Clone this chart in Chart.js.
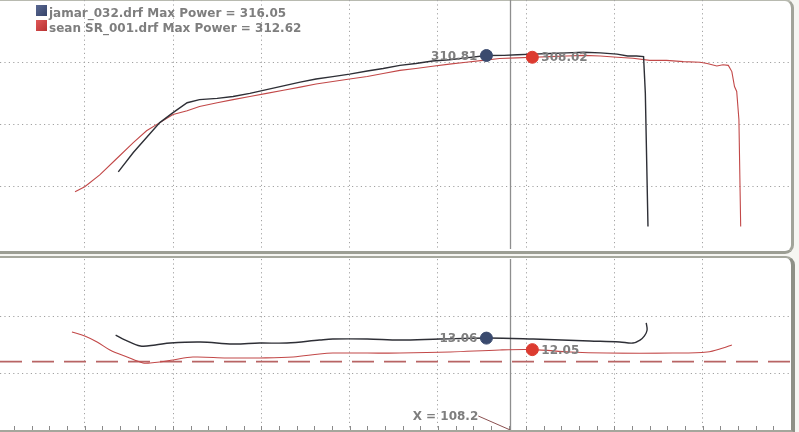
<!DOCTYPE html>
<html>
<head>
<meta charset="utf-8">
<script src="https://cdn.jsdelivr.net/npm/chart.js@4/dist/chart.umd.min.js"></script>
<style>
  html, body { margin:0; padding:0; }
  body { width:799px; height:432px; background:#f6f6f2; position:relative; overflow:hidden; font-family:"DejaVu Sans", Verdana, sans-serif; }
  .panel { position:absolute; background:#ffffff; box-sizing:content-box; }
  #p1 { left:-10px; top:-1px; width:801px; height:250px; border-top:2px solid #b8bab0; border-right:3px solid #a2a49a; border-bottom:3px solid #9c9e94; border-radius:0 9px 9px 0; }
  #p2 { left:-10px; top:256px; width:801px; height:172px; border-top:2px solid #a6a89e; border-right:4px solid #8e9086; border-bottom:3px solid #a4a69c; border-radius:0 9px 0 0; }
  canvas { position:absolute; left:0; }
  #c1 { top:0; }
  #c2 { top:259px; }
</style>
</head>
<body>
<div class="panel" id="p1"></div>
<div class="panel" id="p2"></div>
<canvas id="c1" width="791" height="249"></canvas>
<canvas id="c2" width="791" height="171"></canvas>
<script>
// ---------- DATA ----------
const seriesNames = ["jamar_032.drf", "sean SR_001.drf"];
const maxPower = [316.05, 312.62];
const xMin = 50.4, xMax = 140;
const xGridTicks = [60, 70, 80, 90, 100, 110, 120, 130];
const powerGridTicks = [100, 200, 300];
const afrGridTicks = [10, 15];
const cursorX = 108.2;
const afrTarget = 11.0;

const jamarSpeed = [63.8, 65.5, 68.5, 70.0, 71.6, 73.0, 75.0, 76.8, 78.7, 80.6, 82.5, 84.4, 86.2, 88.1, 90.0, 92.0, 93.8, 95.7, 97.5, 99.4, 101.3, 103.2, 105.5, 107.5, 109.0, 110.8, 112.7, 114.6, 116.5, 118.4, 120.3, 121.5, 122.5, 123.3, 123.5, 123.8];
const jamarPower = [124, 155, 203, 219, 235, 240, 242, 245, 250, 256, 262, 268, 273, 277, 281, 286, 290, 295, 298, 302, 304, 307, 310.8, 311, 312, 313, 314, 315, 316, 315, 313, 310, 310, 309, 250, 36];

const seanSpeed = [58.9, 60.0, 61.7, 63.6, 65.5, 67.0, 68.5, 70.0, 71.6, 73.0, 75.0, 76.8, 78.7, 80.6, 82.5, 84.4, 86.2, 88.1, 90.0, 92.0, 93.8, 95.7, 97.5, 99.4, 101.3, 103.2, 105.1, 107.0, 108.9, 110.8, 112.7, 114.6, 116.5, 118.4, 120.3, 122.1, 124.0, 125.9, 127.8, 129.7, 130.5, 131.6, 132.3, 132.9, 133.3, 133.6, 133.85, 134.1, 134.3];
const seanPower = [92, 100, 119, 145, 171, 190, 203, 216, 222, 229, 235, 240, 245, 250, 255, 260, 265, 269, 273, 277, 282, 287, 290, 293.5, 297, 300, 303, 306, 307, 308, 309, 310, 311, 310, 308, 306.5, 303, 303, 301, 300, 298, 294, 296, 295, 285, 261, 253, 208, 36];

const jamarAfrSpeed = [63.5, 64.6, 66.3, 68.0, 69.7, 73.1, 76.8, 79.8, 82.9, 86.6, 88.1, 92.0, 95.7, 100.2, 105.7, 110.8, 117.2, 120.6, 122.1, 122.9, 123.4, 123.7, 123.6];
const jamarAfr = [13.33, 12.89, 12.37, 12.46, 12.63, 12.72, 12.54, 12.63, 12.63, 12.89, 12.98, 12.98, 12.89, 12.98, 13.07, 12.98, 12.81, 12.72, 12.63, 12.89, 13.25, 13.77, 14.39];

const seanAfrSpeed = [58.55, 60.0, 61.4, 62.85, 64.8, 66.6, 67.4, 68.5, 70.0, 72.25, 76.1, 79.8, 83.6, 86.6, 88.1, 92.0, 95.7, 101.4, 107.0, 110.8, 115.0, 119.1, 126.6, 130.5, 132.3, 133.3];
const seanAfr = [13.6, 13.25, 12.72, 12.02, 11.4, 10.88, 10.88, 10.96, 11.14, 11.4, 11.32, 11.32, 11.4, 11.67, 11.75, 11.75, 11.75, 11.84, 12.02, 12.05, 11.84, 11.75, 11.75, 11.84, 12.19, 12.46];

const powerMarkers = [{ x: 105.5, y: 310.81 }, { x: 110.7, y: 308.02 }];
const afrMarkers = [{ x: 105.5, y: 13.06 }, { x: 110.7, y: 12.05 }];

// ---------- STYLE ----------
const darkLine = "#2e2f36";
const redLine = "#c24848";
const blueDot = "#3a4a6e";
const redDot = "#dc3b30";
const labelGray = "#7e7e7e";
const gridGray = "#a2a2a2";
const FONT = "bold 12px 'DejaVu Sans', Verdana, sans-serif";

const zip = (xs, ys) => xs.map((x, i) => ({ x: x, y: ys[i] }));

function xScaleOpts() {
  return {
    type: "linear", min: xMin, max: xMax,
    afterBuildTicks: s => { s.ticks = xGridTicks.map(v => ({ value: v })); },
    ticks: { display: false },
    grid: { color: gridGray, lineWidth: 1, drawTicks: false },
    border: { display: false, dash: [1.2, 3.2] }
  };
}
function yScaleOpts(min, max, ticks) {
  return {
    type: "linear", min: min, max: max,
    afterBuildTicks: s => { s.ticks = ticks.map(v => ({ value: v })); },
    ticks: { display: false },
    grid: { color: gridGray, lineWidth: 1, drawTicks: false },
    border: { display: false, dash: [1.2, 3.2] }
  };
}

const cursorPlugin = {
  id: "cursor",
  beforeDatasetsDraw(chart) {
    const { ctx, chartArea, scales } = chart;
    const px = Math.round(scales.x.getPixelForValue(cursorX)) + 0.5;
    ctx.save();
    ctx.strokeStyle = "#8e8e8e";
    ctx.lineWidth = 1.3;
    ctx.beginPath();
    ctx.moveTo(px, chartArea.top);
    ctx.lineTo(px, chartArea.bottom);
    ctx.stroke();
    ctx.restore();
  }
};

function markerLabels(values) {
  return {
    id: "markerLabels",
    afterDatasetsDraw(chart) {
      const { ctx, scales } = chart;
      ctx.save();
      ctx.font = FONT;
      ctx.fillStyle = labelGray;
      ctx.textBaseline = "middle";
      values.forEach((m, i) => {
        const px = scales.x.getPixelForValue(m.x);
        const py = scales.y.getPixelForValue(m.y);
        const txt = m.y.toFixed(2);
        if (i === 0) { ctx.textAlign = "right"; ctx.fillText(txt, px - 9, py + 1); }
        else { ctx.textAlign = "left"; ctx.fillText(txt, px + 9, py + 1); }
      });
      ctx.restore();
    }
  };
}

const legendPlugin = {
  id: "fileLegend",
  afterDraw(chart) {
    const { ctx } = chart;
    ctx.save();
    ctx.font = FONT;
    ctx.textBaseline = "alphabetic";
    ctx.textAlign = "left";
    const cols = [["#5a6892", "#36446a"], ["#e05858", "#b83232"]];
    seriesNames.forEach((n, i) => {
      const y0 = 5 + i * 15;
      const g = ctx.createLinearGradient(36, y0, 47, y0 + 11);
      g.addColorStop(0, cols[i][0]);
      g.addColorStop(1, cols[i][1]);
      ctx.fillStyle = g;
      ctx.fillRect(36, y0, 11, 11);
      ctx.fillStyle = labelGray;
      ctx.fillText(n + " Max Power = " + maxPower[i].toFixed(2), 49, y0 + 12);
    });
    ctx.restore();
  }
};

const bottomExtras = {
  id: "bottomExtras",
  afterDraw(chart) {
    const { ctx, chartArea, scales } = chart;
    ctx.save();
    ctx.strokeStyle = "#8a8a8a";
    ctx.lineWidth = 1;
    for (let v = 52; v < xMax; v += 2) {
      const px = Math.round(scales.x.getPixelForValue(v)) + 0.5;
      ctx.beginPath();
      ctx.moveTo(px, chartArea.bottom);
      ctx.lineTo(px, chartArea.bottom - 4);
      ctx.stroke();
    }
    const cx = scales.x.getPixelForValue(cursorX);
    ctx.font = FONT;
    ctx.fillStyle = labelGray;
    ctx.textAlign = "right";
    ctx.textBaseline = "middle";
    const txt = "X = " + cursorX.toFixed(1);
    ctx.fillText(txt, cx - 32, chartArea.bottom - 13);
    ctx.strokeStyle = "#8a5050";
    ctx.lineWidth = 1;
    ctx.beginPath();
    ctx.moveTo(cx - 32, chartArea.bottom - 14);
    ctx.lineTo(cx, chartArea.bottom);
    ctx.stroke();
    ctx.restore();
  }
};

const common = {
  animation: false, responsive: false, events: [],
  layout: { padding: 0, autoPadding: false },
  plugins: { legend: { display: false }, tooltip: { enabled: false } },
  elements: { point: { radius: 0 } }
};

// ---------- POWER CHART ----------
new Chart(document.getElementById("c1"), {
  type: "line",
  data: {
    datasets: [
      { label: "jamar peak", data: [powerMarkers[0]], showLine: false, pointRadius: 6, pointBackgroundColor: blueDot, pointBorderColor: blueDot, order: 0 },
      { label: "sean peak", data: [powerMarkers[1]], showLine: false, pointRadius: 6, pointBackgroundColor: redDot, pointBorderColor: redDot, order: 0 },
      { label: seriesNames[0], data: zip(jamarSpeed, jamarPower), borderColor: darkLine, borderWidth: 1.4, pointRadius: 0, tension: 0, order: 1 },
      { label: seriesNames[1], data: zip(seanSpeed, seanPower), borderColor: redLine, borderWidth: 1.1, pointRadius: 0, tension: 0, order: 2 }
    ]
  },
  options: Object.assign({}, common, {
    scales: { x: xScaleOpts(), y: yScaleOpts(0, 400, powerGridTicks) }
  }),
  plugins: [cursorPlugin, markerLabels(powerMarkers), legendPlugin]
});

// ---------- AFR CHART ----------
new Chart(document.getElementById("c2"), {
  type: "line",
  data: {
    datasets: [
      { label: "jamar afr mark", data: [afrMarkers[0]], showLine: false, pointRadius: 6, pointBackgroundColor: blueDot, pointBorderColor: blueDot, order: 0 },
      { label: "sean afr mark", data: [afrMarkers[1]], showLine: false, pointRadius: 6, pointBackgroundColor: redDot, pointBorderColor: redDot, order: 0 },
      { label: seriesNames[0] + " AFR", data: zip(jamarAfrSpeed, jamarAfr), borderColor: darkLine, borderWidth: 1.4, pointRadius: 0, tension: 0.35, order: 1 },
      { label: seriesNames[1] + " AFR", data: zip(seanAfrSpeed, seanAfr), borderColor: redLine, borderWidth: 1.1, pointRadius: 0, tension: 0.35, order: 2 },
      { label: "target", data: [{ x: xMin, y: afrTarget }, { x: xMax, y: afrTarget }], borderColor: "#b86464", borderWidth: 1.6, borderDash: [22, 10], pointRadius: 0, order: 3 }
    ]
  },
  options: Object.assign({}, common, {
    scales: { x: xScaleOpts(), y: yScaleOpts(5, 20, afrGridTicks) }
  }),
  plugins: [cursorPlugin, markerLabels(afrMarkers), bottomExtras]
});
</script>
</body>
</html>
